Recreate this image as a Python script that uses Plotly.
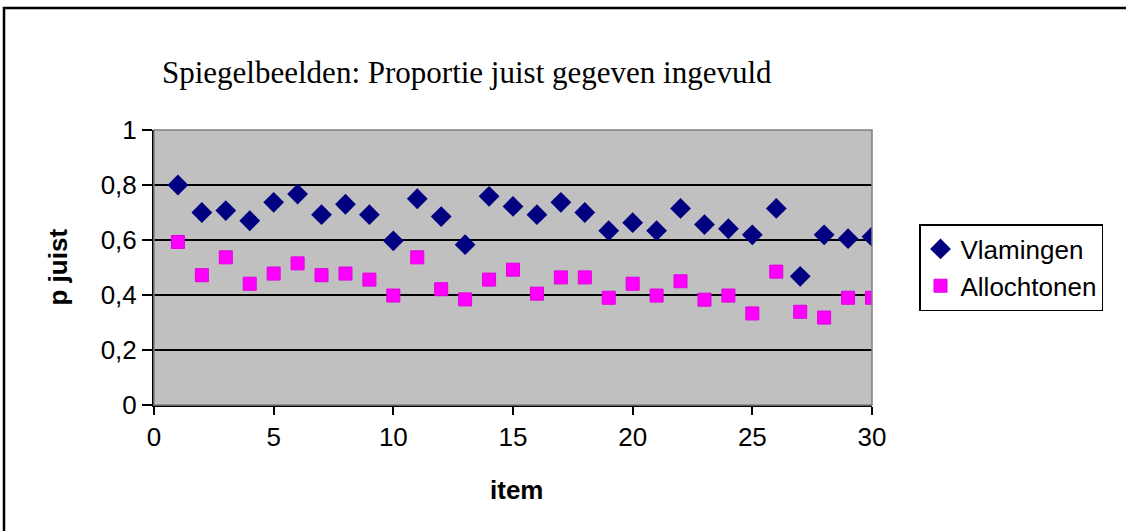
import plotly.graph_objects as go

items = list(range(1, 31))
vlamingen = [0.80, 0.70, 0.707, 0.67, 0.737, 0.767, 0.692, 0.73, 0.692, 0.597,
             0.75, 0.685, 0.583, 0.759, 0.722, 0.692, 0.737, 0.70, 0.634, 0.663,
             0.634, 0.715, 0.656, 0.641, 0.619, 0.715, 0.468, 0.619, 0.605, 0.612]
allochtonen = [0.593, 0.472, 0.537, 0.441, 0.478, 0.515, 0.472, 0.478, 0.456, 0.398,
               0.537, 0.421, 0.384, 0.456, 0.492, 0.405, 0.464, 0.464, 0.39, 0.441,
               0.398, 0.45, 0.383, 0.398, 0.333, 0.485, 0.339, 0.318, 0.39, 0.39]
y_ticks = [0, 0.2, 0.4, 0.6, 0.8, 1]
y_labels = ["0", "0,2", "0,4", "0,6", "0,8", "1"]
x_ticks = [0, 5, 10, 15, 20, 25, 30]

SANS = "Liberation Sans, Arial, sans-serif"
SERIF = "Liberation Serif, Times New Roman, serif"
FS = 26

fig = go.Figure()
fig.add_trace(go.Scatter(x=items, y=vlamingen, mode="markers", name="Vlamingen",
                         marker=dict(symbol="diamond", size=16, color="#000080",
                                     line=dict(width=0))))
fig.add_trace(go.Scatter(x=items, y=allochtonen, mode="markers", name="Allochtonen",
                         marker=dict(symbol="square", size=13, color="#FF00FF",
                                     line=dict(width=1, color="#E000E0"))))

L, R, T, B = 154, 254, 130, 126
W, H = 1126 - L - R, 531 - T - B

def px(xp):
    return (xp - L) / W

def py(yp):
    return (531 - B - yp) / H

frame_path = "M {:.4f},{:.4f} L {:.4f},{:.4f} L {:.4f},{:.4f}".format(
    px(4), py(545), px(4), py(8), px(1150), py(8))

fig.update_layout(
    width=1126, height=531,
    margin=dict(l=L, r=R, t=T, b=B),
    paper_bgcolor="white", plot_bgcolor="#C0C0C0",
    font=dict(family=SANS, size=FS, color="black"),
    showlegend=True,
    legend=dict(x=px(919), y=py(224), xanchor="left", yanchor="top",
                bordercolor="black", borderwidth=1.5, bgcolor="white",
                font=dict(family=SANS, size=FS), itemwidth=30,
                tracegroupgap=0),
    xaxis=dict(range=[0, 30], tickvals=x_ticks, showgrid=False, zeroline=False,
               showline=True, linecolor="black", linewidth=2,
               ticks="outside", ticklen=8, tickwidth=1.5, tickcolor="black",
               tickfont=dict(family=SANS, size=FS)),
    yaxis=dict(range=[0, 1], tickvals=y_ticks, ticktext=y_labels,
               showgrid=True, gridcolor="black", gridwidth=1.5, zeroline=False,
               showline=True, linecolor="black", linewidth=2,
               ticks="outside", ticklen=10, tickwidth=1.5, tickcolor="black",
               tickfont=dict(family=SANS, size=FS)),
    shapes=[
        dict(type="rect", xref="paper", yref="paper", x0=0, x1=1, y0=0, y1=1,
             line=dict(color="#808080", width=1.5), layer="above"),
        dict(type="path", xref="paper", yref="paper", path=frame_path,
             line=dict(color="black", width=2.5), layer="above"),
    ],
    annotations=[
        dict(text="Spiegelbeelden: Proportie juist gegeven ingevuld", xref="paper", yref="paper",
             x=px(160), y=py(72), xanchor="left", yanchor="middle", showarrow=False,
             font=dict(family=SERIF, size=31, color="black")),
        dict(text="<b>p juist</b>", xref="paper", yref="paper", x=px(57), y=0.5,
             xanchor="center", yanchor="middle", textangle=-90, showarrow=False,
             font=dict(family=SANS, size=FS, color="black")),
        dict(text="<b>item</b>", xref="paper", yref="paper", x=px(516), y=py(490),
             xanchor="center", yanchor="middle", showarrow=False,
             font=dict(family=SANS, size=FS, color="black")),
    ],
)

fig.write_html("out.html", config={"displayModeBar": False},
               post_script="document.body.style.margin='0';document.body.style.overflow='hidden';")
